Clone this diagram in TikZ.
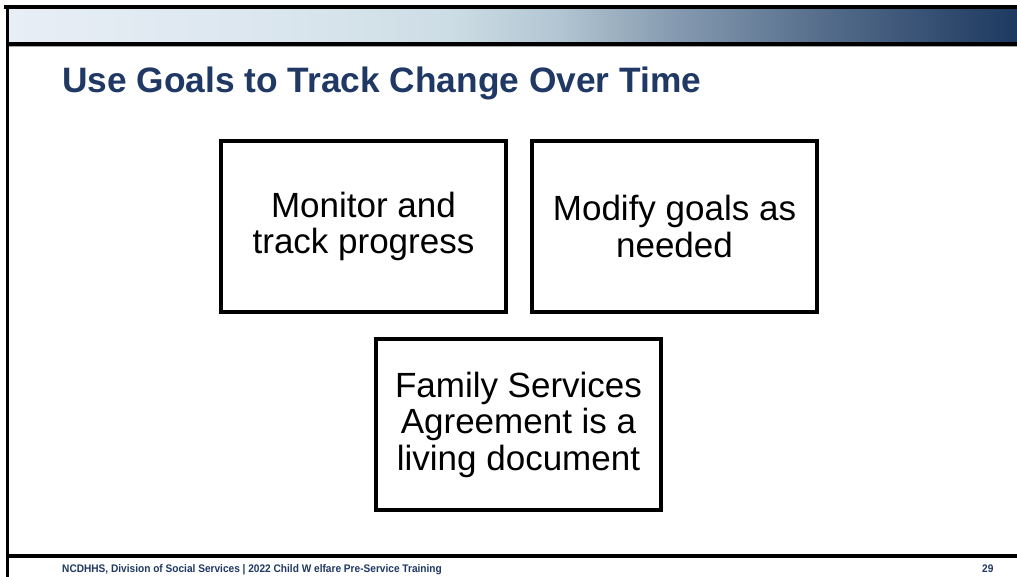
\documentclass[tikz,border=0pt]{standalone}
\usepackage{fontspec}
\setmainfont{Liberation Sans}
\newfontfamily\footfont[FakeStretch=0.92]{Liberation Sans}
\definecolor{navy}{RGB}{31,56,100}
\definecolor{g0}{RGB}{232,238,246}
\definecolor{g1}{RGB}{217,229,237}
\definecolor{g2}{RGB}{205,221,229}
\definecolor{g3}{RGB}{178,197,210}
\definecolor{g4}{RGB}{135,156,177}
\definecolor{g5}{RGB}{86,110,140}
\definecolor{g6}{RGB}{30,57,96}
\tikzset{
  stepbox/.style={draw=black, line width=4pt, minimum width=285pt, minimum height=171pt,
    inner sep=0pt, align=center, font=\fontsize{35}{36.5}\selectfont},
  rule/.style={draw=black, line width=4.5pt},
  foottext/.style={anchor=base west, inner sep=0pt, text=navy, font=\footfont\fontsize{11}{12}\selectfont\bfseries},
}
\begin{document}
\begin{tikzpicture}[x=1pt,y=-1pt]
\useasboundingbox (0,0) rectangle (1017,577);
\fill[white] (0,0) rectangle (1017,577);
% gradient header
\shade[left color=g0, right color=g1, draw=none] (6,9) rectangle (300,42);
\shade[left color=g1, right color=g2, draw=none] (299.5,9) rectangle (450,42);
\shade[left color=g2, right color=g3, draw=none] (449.5,9) rectangle (560,42);
\shade[left color=g3, right color=g4, draw=none] (559.5,9) rectangle (670,42);
\shade[left color=g4, right color=g5, draw=none] (669.5,9) rectangle (820,42);
\shade[left color=g5, right color=g6, draw=none] (819.5,9) rectangle (1017,42);
% frame lines
\coordinate (tl) at (4,7);
\coordinate (tr) at (1017,7);
\coordinate (hl) at (6,44);
\coordinate (hr) at (1017,44);
\coordinate (gl) at (6,46.8);
\coordinate (gr) at (1017,46.8);
\coordinate (ll) at (7.5,577);
\coordinate (lt) at (7.5,5);
\coordinate (bl) at (6,556);
\coordinate (br) at (1017,556);
\draw[rule] (tl) -- (tr);
\draw[black, line width=4pt] (hl) -- (hr);
\draw[gray!70, line width=1pt] (gl) -- (gr);
\draw[black, line width=3.5pt] (lt) -- (ll);
\draw[rule] (bl) -- (br);
% title
\node[anchor=base west, inner sep=0pt, text=navy, font=\fontsize{35.3}{40}\selectfont\bfseries] (title) at (62,93) {Use Goals to Track Change Over Time};
% boxes
\node[stepbox] (b1) at (363.5,226.5) {Monitor and\\track progress};
\node[stepbox] (b2) at (674.5,226.5) {Modify goals as\\needed};
\node[stepbox] (b3) at (518.5,424.5) {Family Services\\Agreement is a\\living document};
% footer
\node[foottext] (foot) at (62,572) {NCDHHS, Division of Social Services | 2022 Child W elfare Pre-Service Training};
\node[foottext] (pg) at (982,572) {29};
\end{tikzpicture}
\end{document}
